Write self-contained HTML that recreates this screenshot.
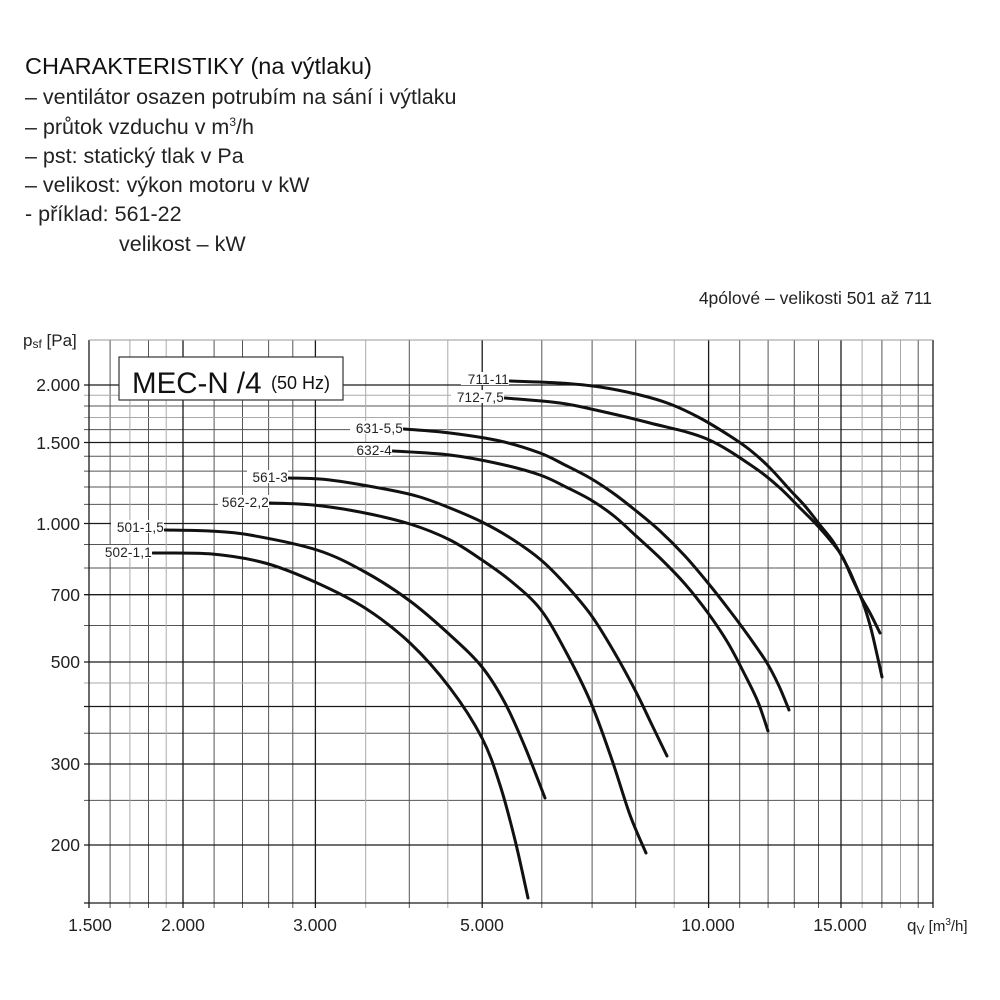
<!DOCTYPE html>
<html><head><meta charset="utf-8"><style>
html,body{margin:0;padding:0;background:#fff;}
body{width:1000px;height:1000px;position:relative;overflow:hidden;font-family:"Liberation Sans",Arial,sans-serif;color:#222;}
.t{position:absolute;left:25px;font-size:21.5px;white-space:nowrap;line-height:1;}
</style></head><body>
<div class="t" style="top:55px;font-size:23.5px;color:#111">CHARAKTERISTIKY (na výtlaku)</div>
<div class="t" style="top:87px">– ventilátor osazen potrubím na sání i výtlaku</div>
<div class="t" style="top:116px">– průtok vzduchu v m<sup style="font-size:12px">3</sup>/h</div>
<div class="t" style="top:146px">– pst: statický tlak v Pa</div>
<div class="t" style="top:175px">– velikost: výkon motoru v kW</div>
<div class="t" style="top:204px">- příklad: 561-22</div>
<div class="t" style="top:234px;left:119px">velikost – kW</div>
<div style="position:absolute;top:288px;right:68px;font-size:17.5px;white-space:nowrap">4pólové – velikosti 501 až 711</div>

<svg width="1000" height="1000" style="position:absolute;left:0;top:0" xmlns="http://www.w3.org/2000/svg">
<g stroke="#555" stroke-width="1" fill="none">
<line x1="84" x2="933" y1="406" y2="406"/><line x1="84" x2="933" y1="429.6" y2="429.6"/>
<line x1="84" x2="933" y1="456.3" y2="456.3"/><line x1="84" x2="933" y1="471.1" y2="471.1"/>
<line x1="84" x2="933" y1="487" y2="487"/><line x1="84" x2="933" y1="504.4" y2="504.4"/>
<line x1="84" x2="933" y1="544.5" y2="544.5"/><line x1="84" x2="933" y1="568" y2="568"/>
<line x1="84" x2="933" y1="625.5" y2="625.5"/><line x1="84" x2="933" y1="733.2" y2="733.2"/>
<line x1="84" x2="933" y1="800.4" y2="800.4"/>
<line y1="340" y2="908" x1="110.1" x2="110.1"/><line y1="340" y2="908" x1="148.5" x2="148.5"/>
<line y1="340" y2="908" x1="214.1" x2="214.1"/><line y1="340" y2="908" x1="242.5" x2="242.5"/>
<line y1="340" y2="908" x1="268.6" x2="268.6"/><line y1="340" y2="908" x1="292.8" x2="292.8"/>
<line y1="340" y2="908" x1="409.3" x2="409.3"/><line y1="340" y2="908" x1="541.8" x2="541.8"/>
<line y1="340" y2="908" x1="592.1" x2="592.1"/><line y1="340" y2="908" x1="635.7" x2="635.7"/>
<line y1="340" y2="908" x1="739.7" x2="739.7"/><line y1="340" y2="908" x1="768.1" x2="768.1"/>
<line y1="340" y2="908" x1="794.3" x2="794.3"/><line y1="340" y2="908" x1="818.5" x2="818.5"/>
<line y1="340" y2="908" x1="881.9" x2="881.9"/><line y1="340" y2="908" x1="918.2" x2="918.2"/>
</g>
<g stroke="#aaa" stroke-width="1" fill="none">
<line x1="84" x2="933" y1="395.2" y2="395.2"/><line x1="84" x2="933" y1="417.5" y2="417.5"/>
<line x1="84" x2="933" y1="683" y2="683"/>
<line y1="340" y2="908" x1="129.9" x2="129.9"/><line y1="340" y2="908" x1="166.2" x2="166.2"/>
<line y1="340" y2="908" x1="365.7" x2="365.7"/><line y1="340" y2="908" x1="447.8" x2="447.8"/>
<line y1="340" y2="908" x1="674.2" x2="674.2"/><line y1="340" y2="908" x1="862.1" x2="862.1"/>
<line y1="340" y2="908" x1="900.5" x2="900.5"/>
</g>
<g stroke="#1a1a1a" stroke-width="1.3" fill="none">
<line x1="84" x2="933" y1="385" y2="385"/><line x1="84" x2="933" y1="442.5" y2="442.5"/>
<line x1="84" x2="933" y1="523.5" y2="523.5"/><line x1="84" x2="933" y1="594.7" y2="594.7"/>
<line x1="84" x2="933" y1="662" y2="662"/><line x1="84" x2="933" y1="706.5" y2="706.5"/>
<line x1="84" x2="933" y1="764" y2="764"/><line x1="84" x2="933" y1="845" y2="845"/>
<line y1="340" y2="908" x1="183" x2="183"/><line y1="340" y2="908" x1="315.4" x2="315.4"/>
<line y1="340" y2="908" x1="482.2" x2="482.2"/><line y1="340" y2="908" x1="708.6" x2="708.6"/>
<line y1="340" y2="908" x1="841" x2="841"/>
<line x1="89" x2="89" y1="340" y2="908"/><line x1="84" x2="933" y1="903" y2="903"/>
<line x1="933" x2="933" y1="340" y2="908"/>
</g>
<line x1="89" x2="933" y1="340" y2="340" stroke="#999" stroke-width="1"/>

<rect x="119" y="357" width="224" height="43" fill="#fff" stroke="#333" stroke-width="1.2"/>
<text x="132" y="393" font-size="29.5" fill="#111">MEC-N /4</text>
<text x="271" y="389" font-size="18" fill="#111">(50 Hz)</text>

<g id="curves" stroke="#111" stroke-width="3" fill="none" stroke-linejoin="round" stroke-linecap="round">
<polyline points="510,381 560,383 600,387 640,395 670,404 700,418 730,436 750,450 770,468 790,490 805,506 820,525 832,540 840,553 850,572 860,595 870,613 880,633"/>
<polyline points="505,398 560,403 600,411 650,423 707,439 755,468 780,488 800,508 815,523 830,540 842,556 852,578 862,600 870,625 876,650 882,677"/>
<polyline points="404,429 450,433 500,441 540,453 565,465 590,478 613,493 635,510 660,531 685,556 708,583 730,611 750,638 767,663 779,686 789,710"/>
<polyline points="393,451 450,455 500,464 540,475 566,487 591,500 614,516 635,535 660,558 685,584 708,613 728,643 745,675 758,702 768,731"/>
<polyline points="289,478 330,480 390,490 420,497 450,508 482,522 512,539 541,560 566,585 591,615 613,650 635,690 652,725 667,756"/>
<polyline points="270,503 313,505 360,512 410,524 450,540 482,560 512,582 541,610 566,652 591,703 612,760 630,815 646,853"/>
<polyline points="165,530 210,531 250,535 317,550 365,572 410,601 450,635 482,667 505,703 525,747 545,798"/>
<polyline points="153,553 212,554 265,563 315,582 365,608 410,643 450,688 482,738 500,785 515,840 528,898"/>
</g>

<g font-size="13.5" fill="#222" text-anchor="end" letter-spacing="0.2">
<rect x="461" y="372" width="48" height="13" fill="#fff"/><text x="509" y="384">711-11</text>
<rect x="451" y="390" width="53" height="13" fill="#fff"/><text x="504" y="402">712-7,5</text>
<rect x="350" y="421" width="53" height="13" fill="#fff"/><text x="403" y="433">631-5,5</text>
<rect x="354" y="443" width="38" height="13" fill="#fff"/><text x="392" y="455">632-4</text>
<rect x="247" y="470" width="41" height="13" fill="#fff"/><text x="288" y="482">561-3</text>
<rect x="218" y="495" width="51" height="13" fill="#fff"/><text x="269" y="507">562-2,2</text>
<rect x="111" y="520" width="53" height="13" fill="#fff"/><text x="164" y="532">501-1,5</text>
<rect x="100" y="545" width="52" height="13" fill="#fff"/><text x="152" y="557">502-1,1</text>
</g>

<g font-size="17.5" fill="#222" text-anchor="end">
<text x="80" y="391">2.000</text>
<text x="80" y="449">1.500</text>
<text x="80" y="530">1.000</text>
<text x="80" y="601">700</text>
<text x="80" y="668">500</text>
<text x="80" y="770">300</text>
<text x="80" y="851">200</text>
</g>
<g font-size="17.5" fill="#222" text-anchor="middle">
<text x="90" y="931">1.500</text>
<text x="183" y="931">2.000</text>
<text x="315" y="931">3.000</text>
<text x="482" y="931">5.000</text>
<text x="708" y="931">10.000</text>
<text x="840" y="931">15.000</text>
</g>
<text x="23" y="346" font-size="17" fill="#222">p<tspan font-size="12" dy="2">sf</tspan><tspan dy="-2"> [Pa]</tspan></text>
<text x="907" y="931" font-size="17" fill="#222">q<tspan font-size="12" dy="3">V</tspan><tspan dy="-3" font-size="15"> [m</tspan><tspan font-size="10" dy="-6">3</tspan><tspan dy="6" font-size="15">/h]</tspan></text>
</svg>
<script>
(function(){
var g=document.getElementById('curves');var pls=g.querySelectorAll('polyline');
for(var i=0;i!==pls.length;i++){var pl=pls[i];
var p=pl.getAttribute('points').trim().split(/\s+/).map(function(s){return s.split(',').map(Number);});
var d='M'+p[0][0]+','+p[0][1];
for(var k=0;k!==p.length-1;k++){var p0=p[k-1]||p[k],p1=p[k],p2=p[k+1],p3=p[k+2]||p2;
var c1=[p1[0]+(p2[0]-p0[0])/6,p1[1]+(p2[1]-p0[1])/6],c2=[p2[0]-(p3[0]-p1[0])/6,p2[1]-(p3[1]-p1[1])/6];
d+=' C'+c1[0]+','+c1[1]+' '+c2[0]+','+c2[1]+' '+p2[0]+','+p2[1];}
var path=document.createElementNS('http://www.w3.org/2000/svg','path');path.setAttribute('d',d);
g.replaceChild(path,pl);}
})();
</script>
</body></html>
